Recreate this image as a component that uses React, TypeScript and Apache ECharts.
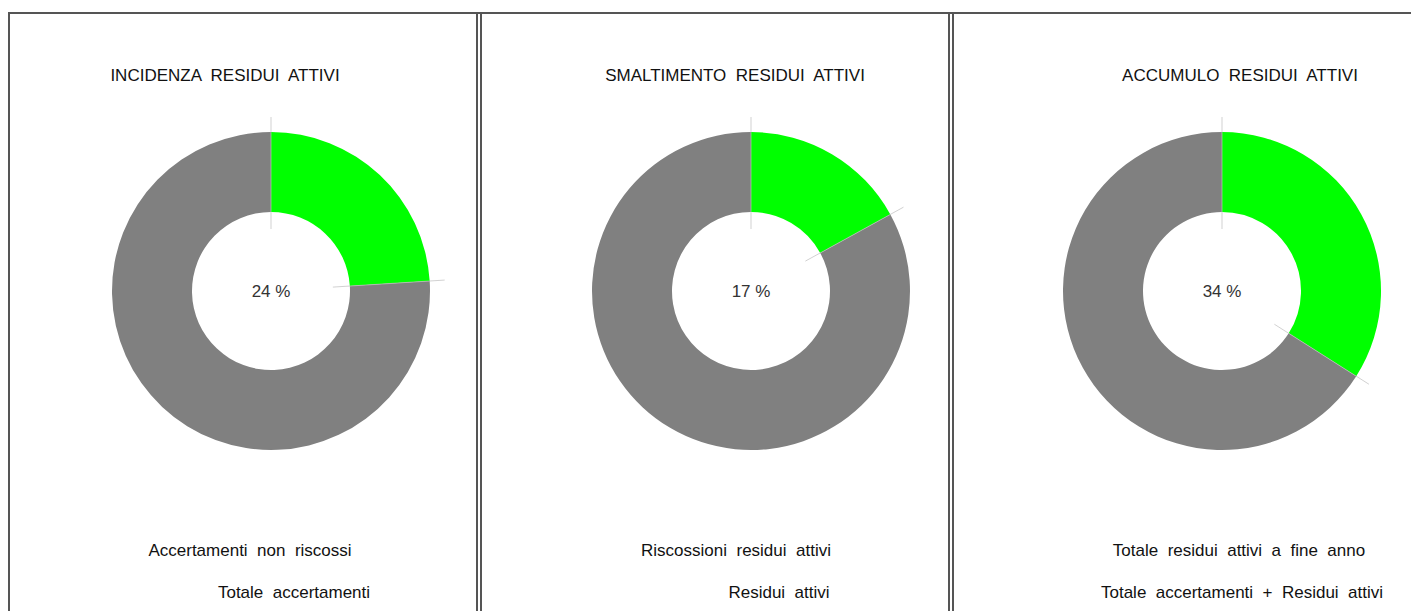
import React, { useEffect, useRef } from "react";
import * as echarts from "echarts";

const titles = ["INCIDENZA  RESIDUI  ATTIVI", "SMALTIMENTO  RESIDUI  ATTIVI", "ACCUMULO  RESIDUI  ATTIVI"];
const numerators = ["Accertamenti  non  riscossi", "Riscossioni  residui  attivi", "Totale  residui  attivi  a  fine  anno"];
const denominators = ["Totale  accertamenti", "Residui  attivi", "Totale  accertamenti  +  Residui  attivi"];
const shareValues = [24, 17, 34];
const restValues = [76, 83, 66];

const GREEN = "#00ff00";
const GREY = "#808080";
const LINE = "#555555";
const FONT = "'Liberation Sans', Arial, sans-serif";

const centersX = [271, 751, 1222];
const titleX = [225, 735, 1240];
const numX = [250, 736, 1239];
const denX = [294, 779, 1242];
const CY = 291;
const R_IN = 79;
const R_OUT = 159;

export default function App() {
  const ref = useRef<HTMLDivElement>(null);
  useEffect(() => {
    document.body.style.margin = "0";
    const chart = echarts.init(ref.current!, null, { renderer: "svg" });

    const series: any[] = shareValues.map((v, i) => ({
      type: "pie",
      silent: true,
      center: [centersX[i], CY],
      radius: [R_IN, R_OUT],
      startAngle: 90,
      clockwise: true,
      label: { show: false },
      labelLine: { show: false },
      emphasis: { disabled: true },
      data: [
        {
          name: "a",
          value: v,
          itemStyle: { color: GREEN },
          label: {
            show: true,
            position: "center",
            formatter: `${v} %`,
            fontSize: 17,
            color: "#333",
            fontFamily: FONT,
          },
        },
        { name: "b", value: restValues[i], itemStyle: { color: GREY } },
      ],
    }));

    const graphic: any[] = [];
    graphic.push({ type: "rect", shape: { x: 8, y: 12, width: 1403, height: 2 }, style: { fill: LINE }, silent: true });
    graphic.push({ type: "rect", shape: { x: 8, y: 12, width: 2, height: 599 }, style: { fill: LINE }, silent: true });
    [476, 480, 948, 952].forEach((x) =>
      graphic.push({ type: "rect", shape: { x, y: 14, width: 2, height: 597 }, style: { fill: LINE }, silent: true })
    );
    shareValues.forEach((v, i) => {
      const total = v + restValues[i];
      [0, v / total].forEach((f) => {
        const a = f * Math.PI * 2;
        const r1 = 62;
        const r2 = 174;
        graphic.push({
          type: "line",
          silent: true,
          z: 10,
          shape: {
            x1: centersX[i] + r1 * Math.sin(a),
            y1: CY - r1 * Math.cos(a),
            x2: centersX[i] + r2 * Math.sin(a),
            y2: CY - r2 * Math.cos(a),
          },
          style: { stroke: "rgba(190,190,190,0.7)", lineWidth: 1 },
        });
      });
    });
    const txt = (t: string, x: number, y: number) => ({
      type: "text",
      x,
      y,
      style: { text: t, fill: "#111", font: `17px ${FONT}`, textAlign: "center", textVerticalAlign: "middle" },
    });
    titles.forEach((t, i) => {
      graphic.push(txt(t, titleX[i], 75));
      graphic.push(txt(numerators[i], numX[i], 550));
      graphic.push(txt(denominators[i], denX[i], 592));
    });

    chart.setOption({
      animation: false,
      backgroundColor: "#ffffff",
      series,
      graphic,
    });
    return () => chart.dispose();
  }, []);
  return <div ref={ref} style={{ position: "fixed", left: 0, top: 0, width: 1411, height: 611 }} />;
}
